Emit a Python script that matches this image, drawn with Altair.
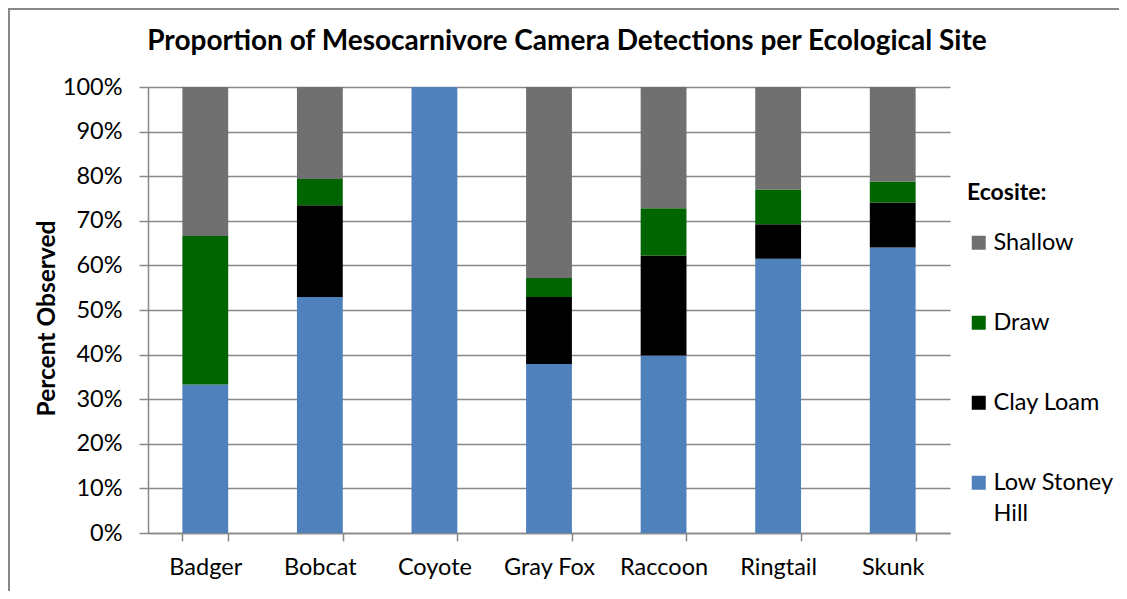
import altair as alt
import pandas as pd

species = ["Badger", "Bobcat", "Coyote", "Gray Fox", "Raccoon", "Ringtail", "Skunk"]
ecosites = ["Low Stoney Hill", "Clay Loam", "Draw", "Shallow"]
low_stoney = [33.3, 52.9, 100.0, 37.9, 39.8, 61.5, 64.0]
clay_loam = [0.0, 20.6, 0.0, 15.0, 22.4, 7.7, 10.1]
draw = [33.3, 5.9, 0.0, 4.3, 10.6, 7.8, 4.7]
shallow = [33.4, 20.6, 0.0, 42.8, 27.2, 23.0, 21.2]
y_ticks = [0, 0.1, 0.2, 0.3, 0.4, 0.5, 0.6, 0.7, 0.8, 0.9, 1.0]

rows = []
for k, (name, vals) in enumerate(zip(ecosites, [low_stoney, clay_loam, draw, shallow])):
    for i, s in enumerate(species):
        rows.append({"Species": s, "Ecosite": name, "Share": vals[i] / 100.0, "Order": k})
df = pd.DataFrame(rows)

FONT = "Lato"
GRID = "#888888"
W, H = 802, 446

legend_domain = ["Shallow", "Draw", "Clay Loam", "Low Stoney Hill"]
legend_range = ["#707070", "#006400", "#000000", "#4F81BD"]

bars = alt.Chart(df).mark_bar().encode(
    x=alt.X("Species:N", sort=species,
            scale=alt.Scale(paddingInner=0.6, paddingOuter=0.3),
            axis=alt.Axis(title=None, labelAngle=0, labelFontSize=23.5, labelFont=FONT,
                          labelColor="#000000", domainColor=GRID, tickColor=GRID,
                          tickSize=8, tickBand="extent", labelPadding=14,
                          domainWidth=1.5, tickWidth=1.5)),
    y=alt.Y("Share:Q", stack="zero",
            scale=alt.Scale(domain=[0, 1], nice=False),
            axis=alt.Axis(values=y_ticks, format=".0%", title="Percent Observed",
                          labelFontSize=23.5, labelFont=FONT, labelColor="#000000",
                          titleFont=FONT, titleFontSize=24.5, titleFontWeight="bold",
                          titleColor="#000000", titleX=-101, titleY=231,
                          titleAngle=-90, titleBaseline="middle", titleAlign="center",
                          grid=True, gridColor=GRID, gridWidth=1.5,
                          domainColor=GRID, domainWidth=1.5,
                          tickColor=GRID, tickSize=9, tickWidth=1.5, labelPadding=17)),
    color=alt.Color("Ecosite:N",
                    scale=alt.Scale(domain=legend_domain, range=legend_range),
                    legend=alt.Legend(
                        title="Ecosite:",
                        labelExpr="datum.label == 'Low Stoney Hill' ? ['Low Stoney', 'Hill'] : datum.label")),
    order=alt.Order("Order:Q", sort="ascending"),
)

frame = alt.Chart(pd.DataFrame({"a": [0]})).mark_rect(
    filled=False, stroke="#878787", strokeWidth=2
).encode(x=alt.value(-139), x2=alt.value(1200), y=alt.value(-78), y2=alt.value(700))

chart = alt.layer(frame, bars).properties(
    width=W, height=H,
    autosize=alt.AutoSizeParams(type="none"),
    padding={"left": 140, "top": 79, "right": 169, "bottom": 58},
    title=alt.TitleParams(
        "Proportion of Mesocarnivore Camera Detections per Ecological Site",
        font=FONT, fontSize=28, fontWeight="bold", color="#000000",
        anchor="middle", frame="group", dx=18, dy=48, offset=0),
).configure(
    style={"guide-label": {"lineHeight": 31}}
).configure_view(stroke=None).configure_legend(
    orient="none", legendX=819, legendY=95,
    titleFont=FONT, titleFontSize=23, titleFontWeight="bold", titleColor="#000000",
    labelFont=FONT, labelFontSize=23.5, labelColor="#000000",
    symbolType="square", symbolSize=196, symbolStrokeWidth=0,
    rowPadding=55, titlePadding=26, labelOffset=3, padding=0,
    labelLimit=300,
)

chart.save("out.html", embed_options={"renderer": "svg", "actions": False})
